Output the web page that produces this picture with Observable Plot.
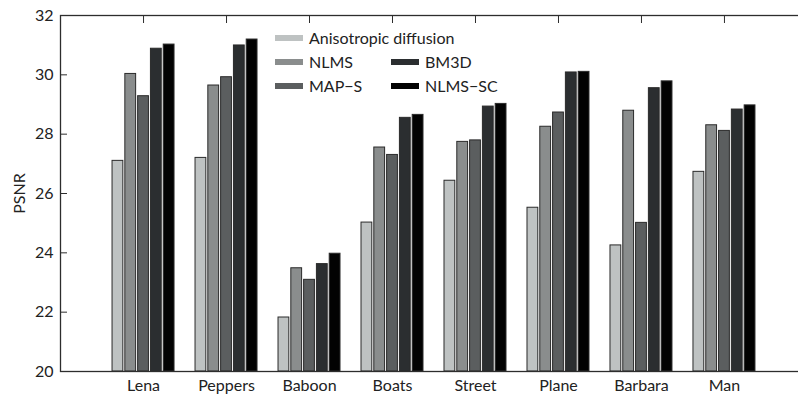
<!DOCTYPE html>
<html><head><meta charset="utf-8">
<script src="https://cdn.jsdelivr.net/npm/d3@7"></script>
<script src="https://cdn.jsdelivr.net/npm/@observablehq/plot@0.6"></script>
<style>
body{margin:0;background:#fff;}
#wrap{position:relative;width:798px;height:399px;overflow:hidden;font-family:Lato,"Open Sans",sans-serif;}
#wrap svg{max-width:none !important;width:807px !important;height:399px !important;display:block;}
.lg{position:absolute;display:flex;align-items:center;font-size:16px;color:#222;white-space:nowrap;line-height:1;}
.sw{display:inline-block;width:28px;height:6px;margin-right:6px;}
</style></head><body><div id="wrap"></div>
<script>
const categories = ["Lena","Peppers","Baboon","Boats","Street","Plane","Barbara","Man"];
const methods = ["Anisotropic diffusion","NLMS","MAP−S","BM3D","NLMS−SC"];
const aniso  = [27.10, 27.20, 21.82, 25.02, 26.43, 25.52, 24.25, 26.73];
const nlms   = [30.03, 29.64, 23.48, 27.55, 27.74, 28.25, 28.79, 28.30];
const maps   = [29.28, 29.92, 23.09, 27.30, 27.79, 28.73, 25.01, 28.11];
const bm3d   = [30.88, 30.99, 23.62, 28.55, 28.93, 30.08, 29.55, 28.83];
const nlmssc = [31.02, 31.19, 23.97, 28.65, 29.02, 30.10, 29.78, 28.97];
const yTicks = [20, 22, 24, 26, 28, 30, 32];
const colors = ["#bec2c2", "#8a8d8d", "#5b5e5f", "#2b2e30", "#020202"];

const series = [aniso, nlms, maps, bm3d, nlmssc];

// band geometry: each category band is ~62px wide; 5 bars of 10.8px with 2px gaps
const bandW = 62, barW = 10.8, gap = 2;

const barMarks = series.map((vals, j) => {
  const rows = categories.map((c, i) => ({image: c, method: methods[j], value: vals[i]}));
  const left = j * (barW + gap);
  return Plot.barY(rows, {
    x: "image", y1: 20, y2: "value", fill: "method",
    stroke: "#2a2a2a", strokeWidth: 1,
    insetLeft: left, insetRight: bandW - left - barW
  });
});

// the plot area runs past the right edge of the 798px window (cropped like the reference)
const chart = Plot.plot({
  width: 807, height: 399,
  marginLeft: 60, marginRight: 0, marginTop: 15, marginBottom: 28,
  style: {fontFamily: "Lato, 'Open Sans', sans-serif", fontSize: "16px", color: "#222", background: "transparent", maxWidth: "none"},
  x: {domain: categories, paddingInner: 0.253, paddingOuter: 0.627, round: false, label: null},
  y: {domain: [20, 32], label: null},
  color: {domain: methods, range: colors},
  marks: [
    ...barMarks,
    Plot.frame({stroke: "#2d2d2d", strokeWidth: 1.3}),
    Plot.axisY({ticks: yTicks, tickSize: 0, tickPadding: 7, label: "PSNR", labelArrow: "none", labelAnchor: "center", labelOffset: 47, fontSize: 16}),
    Plot.axisY({ticks: yTicks, tickSize: -7, tickFormat: () => "", label: null, stroke: "#2d2d2d"}),
    Plot.axisX({anchor: "bottom", tickSize: 0, tickPadding: 8, label: null, fontSize: 16}),
    Plot.axisX({anchor: "top", tickSize: -7, tickFormat: () => "", label: null, stroke: "#2d2d2d"})
  ]
});
const wrap = document.getElementById("wrap");
wrap.appendChild(chart);

// legend overlay
const legendItems = [
  {m: 0, left: 275, top: 38},
  {m: 1, left: 275, top: 62},
  {m: 2, left: 275, top: 86},
  {m: 3, left: 391, top: 62},
  {m: 4, left: 391, top: 86}
];
legendItems.forEach(it => {
  const d = document.createElement("div");
  d.className = "lg";
  d.style.left = it.left + "px";
  d.style.top = (it.top - 9) + "px";
  d.style.height = "18px";
  const s = document.createElement("span");
  s.className = "sw";
  s.style.background = colors[it.m];
  d.appendChild(s);
  d.appendChild(document.createTextNode(methods[it.m]));
  wrap.appendChild(d);
});
</script></body></html>
